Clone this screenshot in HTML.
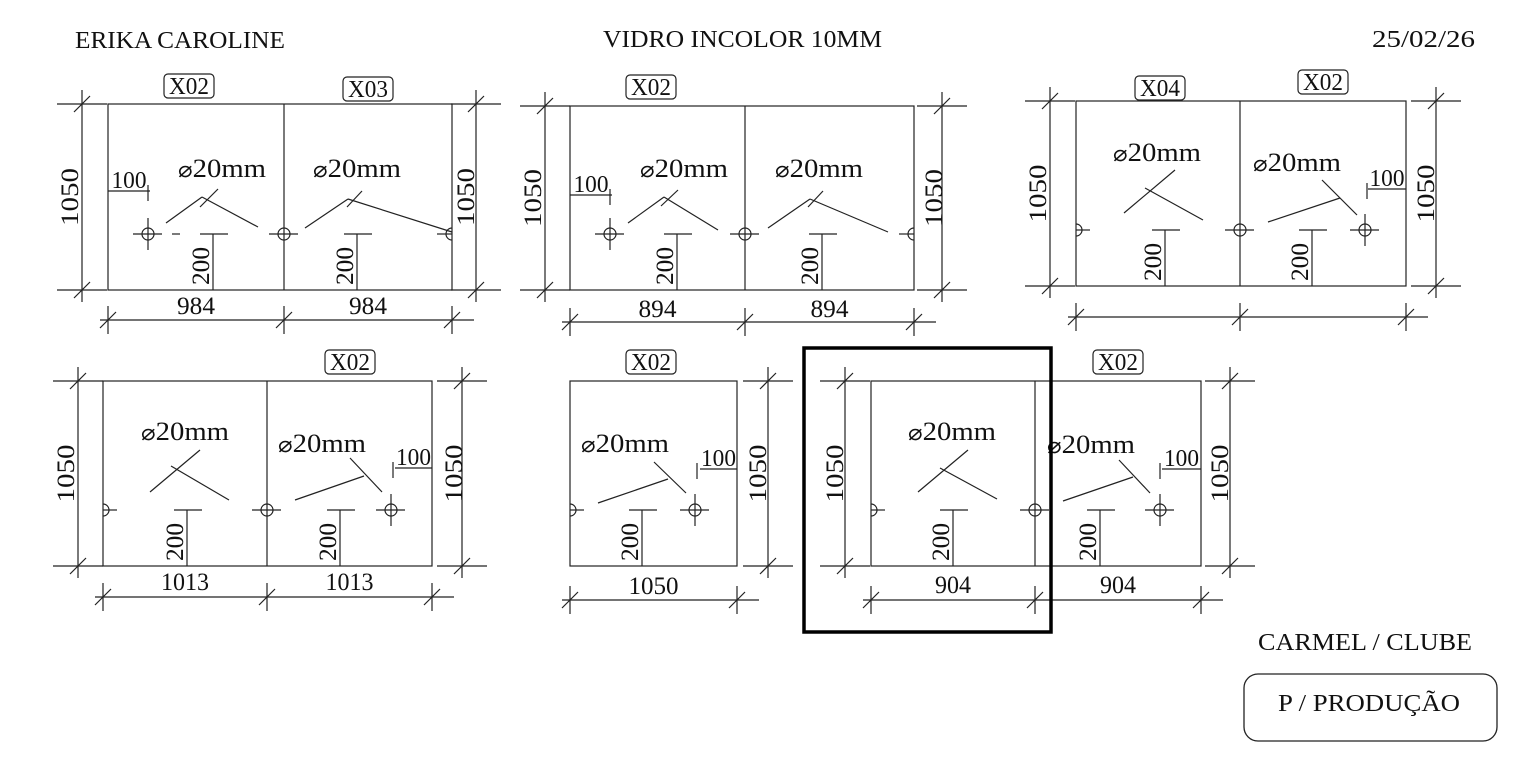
<!DOCTYPE html>
<html><head><meta charset="utf-8"><style>
body{margin:0;background:#fff;width:1535px;height:767px;overflow:hidden}
svg{display:block}
text{font-family:"Liberation Serif",serif;fill:#111}
</style></head><body>
<svg id="s" width="1535" height="767" viewBox="0 0 1535 767" xmlns="http://www.w3.org/2000/svg">
<g stroke="#222" stroke-width="1.2" fill="none" id="g"></g>
<g id="t"></g>
<text x="75" y="48" font-size="24" textLength="210" lengthAdjust="spacingAndGlyphs">ERIKA CAROLINE</text>
<text x="603" y="47" font-size="24" textLength="279" lengthAdjust="spacingAndGlyphs">VIDRO INCOLOR 10MM</text>
<text x="1372" y="47" font-size="24" textLength="103" lengthAdjust="spacingAndGlyphs">25/02/26</text>
<text x="1258" y="650" font-size="24" textLength="214" lengthAdjust="spacingAndGlyphs">CARMEL / CLUBE</text>
<rect x="1244" y="674" width="253" height="67" rx="14" fill="none" stroke="#222" stroke-width="1.3"/>
<text x="1278" y="711" font-size="24" textLength="182" lengthAdjust="spacingAndGlyphs">P / PRODUÇÃO</text>
<rect x="804" y="348" width="247" height="284" fill="none" stroke="#000" stroke-width="3.5"/>
</svg>
<script>
var G=document.getElementById('g'),T=document.getElementById('t'),g='',t='';
function L(a,b,c,d){g+='<line x1="'+a+'" y1="'+b+'" x2="'+c+'" y2="'+d+'"/>';}
function C(x,y){g+='<circle cx="'+x+'" cy="'+y+'" r="6"/>';}
function H(x,y,r){g+='<path d="M'+x+','+(y-6)+' A6,6 0 0,'+(r?0:1)+' '+x+','+(y+6)+'"/>';}
function TX(x,y,s,sz,rot,anc,len){t+='<text x="'+x+'" y="'+y+'" font-size="'+sz+'"'+(anc?' text-anchor="'+anc+'"':'')+(len?' textLength="'+len+'" lengthAdjust="spacingAndGlyphs"':'')+(rot?' transform="rotate(-90 '+x+' '+y+')"':'')+'>'+s+'</text>';}
function tag(x,y,s){g+='<rect x="'+(x-25)+'" y="'+(y-12)+'" width="50" height="24" rx="4"/>';TX(x,y+8,s,24,0,'middle',40);}
function tk(x,y){L(x-8,y+8,x+8,y-8);}
function vdim(x,y1,y2,tx){L(x,y1-14,x,y2+12);L(x-25,y1,x+25,y1);L(x-25,y2,x+25,y2);tk(x,y1);tk(x,y2);if(tx)TX(tx,(y1+y2)/2,'1050',25,1,'middle',58);}
function hdim(y,xs,ty,txt,len){L(xs[0]-8,y,xs[xs.length-1]+22,y);xs.forEach(function(x,i){L(x,y-14,x,y+14);tk(x,y);if(i<xs.length-1&&txt)TX((x+xs[i+1])/2,ty,txt,25,0,'middle',len);});}
function hole(x,y,full,half,rt){if(half)H(x,y,rt);else C(x,y);if(rt)L(x-15,y,x,y);else L(x-(half?0:15),y,x+14,y);if(full)L(x,y-16,x,y+16);}
function d200(x,y,yb){L(x,y,x,yb);L(x-13,y,x+15,y);TX(x-4,y+32,'200',25,1,'middle',38);}
function dia(x,y){TX(x,y,'<tspan font-size="22">&#8960;</tspan>20mm',26,0,0,88);}
function h100(x1,x2,y,lx){TX((x1+x2)/2,y-3,'100',24,0,'middle',35);L(x1,y,x2,y);L(lx,y-6,lx,y+10);}
// panel 1
g+='<rect x="108" y="104" width="344" height="186"/>';L(284,104,284,290);
tag(189,86,'X02');tag(368,89,'X03');
vdim(82,104,290,78);vdim(476,104,290,474);hdim(320,[108,284,452],314,'984',38);
hole(148,234,1);L(172,234,180,234);hole(284,234);hole(452,234,0,1,1);
d200(213,234,290);d200(357,234,290);
L(166,223,202,197);L(202,197,258,227);L(200,207,218,189);dia(178,177);
L(305,228,348,199);L(348,199,452,232);L(347,207,362,191);dia(313,177);
h100(108,150,191,148);
// panel 2
g+='<rect x="570" y="106" width="344" height="184"/>';L(745,106,745,290);
tag(651,87,'X02');
vdim(545,106,290,541);vdim(942,106,290,942);hdim(322,[570,745,914],317,'894',38);
hole(610,234,1);hole(745,234);hole(914,234,0,1,1);
d200(677,234,290);d200(822,234,290);
L(628,223,664,197);L(664,197,718,230);L(661,206,678,190);dia(640,177);
L(768,228,810,199);L(810,199,888,232);L(808,207,823,191);dia(775,177);
h100(570,612,195,610);
// panel 3
g+='<rect x="1076" y="101" width="330" height="185"/>';L(1240,101,1240,286);
tag(1160,88,'X04');tag(1323,82,'X02');
vdim(1050,101,286,1046);vdim(1436,101,286,1434);hdim(317,[1076,1240,1406],0,'');
hole(1076,230,0,1);hole(1240,230);hole(1365,230,1);
d200(1165,230,286);d200(1312,230,286);
L(1124,213,1175,170);L(1145,188,1203,220);dia(1113,161);
L(1268,222,1340,198);L(1322,180,1357,215);dia(1253,171);
h100(1368,1406,189,1367);
// panel 4
g+='<rect x="103" y="381" width="329" height="185"/>';L(267,381,267,566);
tag(350,362,'X02');
vdim(78,381,566,74);vdim(462,381,566,462);hdim(597,[103,267,432],590,'1013',48);
hole(103,510,0,1);hole(267,510);hole(391,510,1);
d200(187,510,566);d200(340,510,566);
L(150,492,200,450);L(171,466,229,500);dia(141,440);
L(295,500,364,476);L(350,458,382,492);dia(278,452);
h100(395,432,468,393);
// panel 5
g+='<rect x="570" y="381" width="167" height="185"/>';
tag(651,362,'X02');
vdim(768,381,566,766);hdim(600,[570,737],594,'1050',50);
hole(570,510,0,1);hole(695,510,1);
d200(642,510,566);
L(598,503,668,479);L(654,462,686,493);dia(581,452);
h100(700,737,469,697);
// panel 6
g+='<rect x="871" y="381" width="330" height="185"/>';L(1035,381,1035,566);
tag(1118,362,'X02');
vdim(845,381,566,843);vdim(1230,381,566,1228);hdim(600,[871,1035,1201],593,'904',36);
hole(871,510,0,1);hole(1035,510);hole(1160,510,1);
d200(953,510,566);d200(1100,510,566);
L(918,492,968,450);L(940,468,997,499);dia(908,440);
L(1063,501,1133,477);L(1119,460,1150,493);dia(1047,453);
h100(1162,1201,469,1160);
G.innerHTML=g;T.innerHTML=t;
</script>
</body></html>
